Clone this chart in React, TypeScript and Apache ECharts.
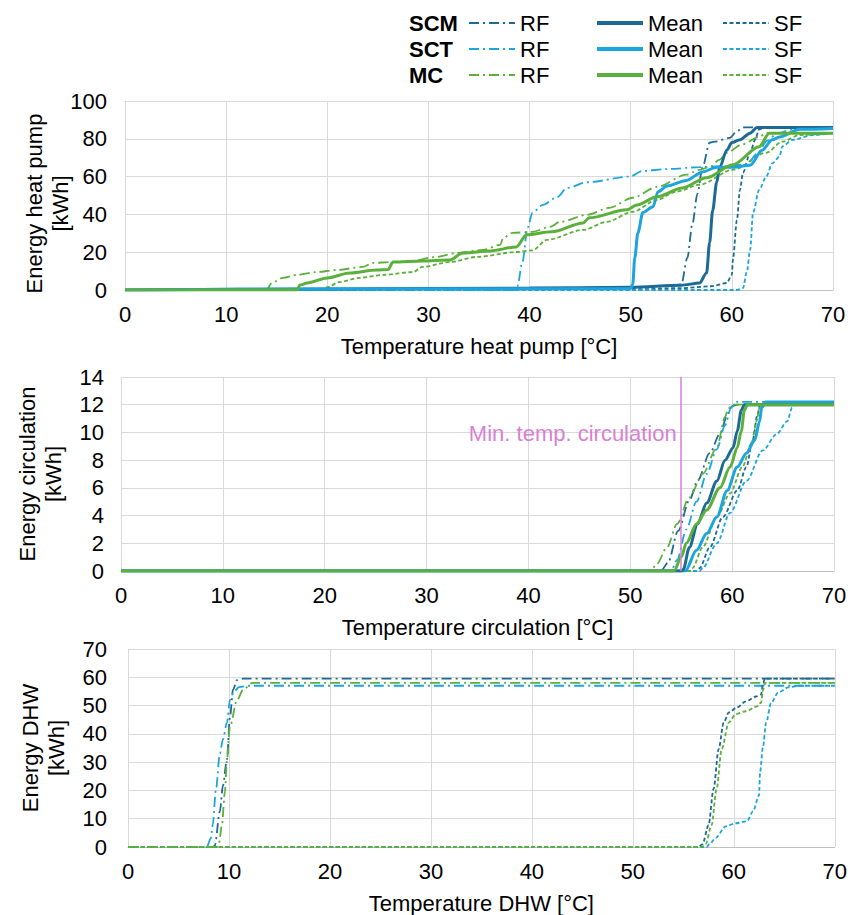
import React, { useEffect, useRef } from "react";
import * as echarts from "echarts";

// ---------- colours ----------
const C_SCM = "#1D6B94";
const C_SCT = "#1BA5DF";
const C_MC = "#5BAF3B";
const C_MIN = "#D97FD3";
const FONT = "'Liberation Sans', Arial, sans-serif";
const FS = 22;

// ---------- Panel 1: heat pump ----------
const hpScmRf = [[0,0],[40,0.5],[50,1],[54,2],[55,3],[55.6,17],[56.1,35],[56.6,51],[57.1,65],[57.8,78],[58.3,78.5],[59.8,80.5],[60.5,84],[61.1,86],[70,86]];
const hpScmMean = [[0,0],[20,0.5],[40,1],[50,1.5],[55,2.5],[56.8,3.7],[57.5,9],[57.8,25],[58.1,42],[58.5,57],[58.8,65],[59.5,74],[60,78],[60.8,79.5],[61.8,83],[62.5,86],[70,86]];
const hpScmSf = [[0,0],[50,0.3],[55,1],[58,2],[59.5,3.7],[60,8],[60.1,16],[60.5,37],[60.8,53],[61.1,62],[61.8,72.6],[62.3,79.5],[62.7,85],[63.5,86],[70,86]];
const hpSctRf = [[0,0],[38.5,0],[38.8,2],[39.3,15],[39.8,33],[40.3,41],[41.3,45],[42.7,49],[43.7,54],[45.7,57],[49.9,60],[51.2,63],[53.6,64],[56.8,65],[59.1,65.5],[61.5,66.5],[62.5,72],[63.5,79],[64.5,83],[66,85],[70,85.5]];
const hpSctMean = [[0,0],[20,0.5],[50,0.8],[50.2,3],[50.4,17],[50.7,30],[51.2,41],[52.2,44],[52.7,52],[53.6,55],[55.5,58],[57.1,62.5],[58.5,65],[60.1,65],[61.8,66],[63,74],[64,79.5],[64.7,81],[66.7,85],[70,85.5]];
const hpSctSf = [[0,0],[60.5,0],[61.1,1],[61.5,10],[61.8,21],[62.1,41],[62.7,53],[63.4,60],[64,67],[64.7,70.5],[65,76],[66,79.5],[68,82],[70,83]];
const hpMcRf = [[0,0],[14,0],[14.5,3.7],[15.6,6.4],[17,8],[19,9.5],[20.9,10.6],[23.5,12.2],[24.5,14.3],[26.2,14.8],[28,15],[30.8,17.5],[32.8,19.6],[35.4,21.2],[37.1,23.9],[37.4,27.6],[38.3,30.2],[40.3,30.8],[42,33.4],[43,36],[45.7,39.8],[47.9,43.5],[50.2,48.8],[52.6,54.6],[55.5,61],[56.8,63.6],[57.8,65],[58.8,69],[59.5,72.6],[61,77],[62.7,81],[63.4,83],[70,83]];
const hpMcMean = [[0,0],[17,0],[17.3,2.6],[18,3.7],[20,6.4],[22.2,9],[24.9,10.6],[26,10.8],[26.5,14.8],[29.4,15.4],[32.1,15.9],[33.4,19.6],[36.1,20.7],[38.7,22.8],[39.7,29.2],[42.2,30.8],[45.3,35.5],[45.9,38.2],[49.6,42.4],[50.6,45],[52.6,49.3],[55.1,54],[57.5,59.4],[60.1,66.3],[62.7,75.8],[63.7,83],[70,83]];
const hpMcSf = [[0,0],[19.5,0],[20,1.5],[21.2,4.2],[23.2,6.4],[25.5,8],[28.5,9.5],[29.4,12.2],[32.1,14.8],[34.8,17.5],[38.7,20.1],[40.3,21],[41.7,26.5],[45.3,31.8],[47.6,36],[50.2,41.4],[52.6,47.7],[54.5,52],[56.8,55.7],[60.1,63.6],[63.4,72.6],[65,78.5],[66.7,82],[70,83]];

// ---------- Panel 2: circulation ----------
const ciScmRf = [[0,0],[53,0],[53.7,0.6],[54.7,2.9],[55.8,5.1],[56.6,6.5],[57.8,8.5],[58.8,9.9],[59.6,11.4],[60,11.9],[60.5,12],[70,12]];
const ciScmMean = [[0,0],[55,0],[55.2,0.1],[55.8,1.7],[56.6,3.4],[57.5,4.9],[58.5,6.5],[59.3,8],[60.1,8.9],[60.5,10.1],[60.9,11.6],[61.2,12],[70,12]];
const ciScmSf = [[0,0],[56.5,0],[56.8,0.2],[57.8,1.7],[59.1,3.9],[60.5,5.8],[61.4,7.5],[62,9.4],[62.5,11.3],[62.7,11.9],[63,12.1],[70,12.1]];
const ciSctRf = [[0,0],[54,0],[54.6,0.8],[55.5,3],[56.5,5],[57.5,7],[58.5,8.8],[59.3,10.5],[59.9,11.8],[60.5,12.2],[70,12.2]];
const ciSctMean = [[0,0],[55.4,0],[56.5,1.5],[57.5,2.7],[58.5,3.9],[59.5,5.8],[60.5,7.5],[61.4,8.5],[62.2,9.4],[62.7,10.8],[62.9,11.8],[63.3,12.2],[70,12.2]];
const ciSctSf = [[0,0],[56.8,0],[57.1,0.2],[58.5,2],[59.8,4.2],[61.4,6.5],[63,8.7],[64.4,9.9],[65.4,10.8],[65.9,11.8],[66.4,12.2],[70,12.2]];
const ciMcRf = [[0,0],[52,0],[52.6,0.5],[53.6,1.7],[54.6,3.4],[55.8,5.3],[57.1,7],[58.5,8.9],[59.3,11.1],[59.6,11.7],[60,12],[70,12]];
const ciMcMean = [[0,0],[54.3,0],[55,1],[55.5,2],[56.5,3.4],[57.5,4.4],[58.8,6],[59.8,7.5],[60.5,8.9],[60.9,10.1],[61.2,11.6],[61.5,12],[70,12]];
const ciMcSf = [[0,0],[55.8,0],[56.1,0.2],[57.1,1.7],[58.5,3.9],[59.8,5.6],[61,7.5],[61.9,9.2],[62.4,10.8],[62.7,11.8],[63,12],[70,12]];
const minTempCirculation = 55;
const minTempLabelY = 9.9;

// ---------- Panel 3: DHW ----------
const dhScmRf = [[0,0],[8.4,0],[8.6,0.5],[9.1,12.6],[9.4,21.7],[9.8,31],[10.1,46],[10.4,55.6],[10.8,59],[11.4,59.5],[70,59.5]];
const dhScmSf = [[0,0],[56.5,0],[56.9,1],[57.5,7.7],[58,20.6],[58.5,34.6],[59,44],[59.5,47.6],[60.3,49.3],[61.2,51.5],[62.2,53.2],[62.7,53.9],[62.9,58],[63.1,59.5],[70,59.5]];
const dhSctRf = [[0,0],[7.8,0],[8.2,3],[8.4,8],[8.7,20],[9.1,33],[9.4,38],[9.8,44],[10.1,52],[10.5,55],[11,56.5],[12,57],[70,57]];
const dhSctSf = [[0,0],[57.3,0],[57.6,1],[58.2,3.2],[59.2,7.3],[60.2,8.4],[61.3,9.1],[61.9,12.6],[62.5,18.2],[62.6,26.6],[62.9,35.7],[63.2,44],[63.7,51],[64.4,54.6],[65.4,56.4],[66.4,57],[70,57]];
const dhMcRf = [[0,0],[8.8,0],[9.0,1],[9.3,7.7],[9.6,19.6],[9.8,31],[10.1,42.7],[10.8,52],[11.4,55.6],[12.3,58],[70,58]];
const dhMcSf = [[0,0],[56.8,0],[57.2,1],[57.8,7.7],[58.3,20.6],[58.8,34.6],[59.5,44],[60.2,47],[61.2,48],[62.3,49.7],[62.7,51],[62.9,55.6],[63.1,58],[70,58]];

// ---------- axis texts ----------
const xNames = ["Temperature heat pump [°C]", "Temperature circulation [°C]", "Temperature DHW [°C]"];
const yNames = ["Energy heat pump\n[kWh]", "Energy circulation\n[kWh]", "Energy DHW\n[kWh]"];
const yMax = [100, 14, 70];
const yStep = [20, 2, 10];
const groups = ["SCM", "SCT", "MC"];
const kinds = ["RF", "Mean", "SF"];

const colorOf: Record<string, string> = { SCM: C_SCM, SCT: C_SCT, MC: C_MC };

function lineStyleOf(kind: string, color: string) {
  if (kind === "Mean") return { color, width: 3, type: "solid" as const };
  if (kind === "RF") return { color, width: 1.8, type: [10, 4, 2, 4] };
  return { color, width: 1.8, type: [4, 2.5] };
}

function mk(group: string, kind: string, data: number[][], idx: number, extra: any = {}) {
  const color = colorOf[group];
  return {
    name: `${group} ${kind}`,
    type: "line",
    xAxisIndex: idx,
    yAxisIndex: idx,
    data,
    symbol: "none",
    showSymbol: false,
    smooth: 0.3,
    smoothMonotone: "x",
    color,
    lineStyle: lineStyleOf(kind, color),
    z: kind === "Mean" ? 3 : 2,
    ...extra,
  };
}

export default function App() {
  const ref = useRef<HTMLDivElement>(null);
  useEffect(() => {
    document.body.style.margin = "0";
    if (!ref.current) return;
    const chart = echarts.init(ref.current, undefined, { renderer: "svg" });

    const grids = [
      { left: 125, top: 101, width: 708, height: 189 },
      { left: 121, top: 377, width: 713, height: 194 },
      { left: 128, top: 649, width: 708, height: 200 },
    ];
    const yLabelMargin = [18, 17, 21];
    const yNameGap = [52, 55, 59];
    const yNamePad = [[0, 16, 0, 0], [0, 0, 0, 0], [0, 0, 0, 0]];

    const xAxis = grids.map((_, i) => ({
      type: "value",
      gridIndex: i,
      min: 0,
      max: 70,
      interval: 10,
      name: xNames[i],
      nameLocation: "middle",
      nameGap: 45,
      nameMoveOverlap: false,
      nameTextStyle: { color: "#000", fontSize: FS, fontFamily: FONT },
      axisLine: { show: true, lineStyle: { color: "#bfbfbf", width: 1 } },
      axisTick: { show: false },
      axisLabel: { color: "#000", fontSize: FS, fontFamily: FONT, margin: 13 },
      splitLine: { show: true, lineStyle: { color: "#d9d9d9", width: 1 } },
    }));
    const yAxis = grids.map((_, i) => ({
      type: "value",
      gridIndex: i,
      min: 0,
      max: yMax[i],
      interval: yStep[i],
      name: yNames[i],
      nameLocation: "middle",
      nameRotate: 90,
      nameGap: yNameGap[i],
      nameMoveOverlap: false,
      nameTextStyle: { color: "#000", fontSize: FS, fontFamily: FONT, lineHeight: 26, padding: yNamePad[i] },
      axisLine: { show: false },
      axisTick: { show: false },
      axisLabel: { color: "#000", fontSize: FS, fontFamily: FONT, margin: yLabelMargin[i] },
      splitLine: { show: true, lineStyle: { color: "#d9d9d9", width: 1 } },
    }));

    const series: any[] = [
      // panel 1
      mk("SCM", "RF", hpScmRf, 0),
      mk("SCT", "RF", hpSctRf, 0),
      mk("MC", "RF", hpMcRf, 0),
      mk("SCM", "SF", hpScmSf, 0),
      mk("SCT", "SF", hpSctSf, 0),
      mk("MC", "SF", hpMcSf, 0),
      mk("SCM", "Mean", hpScmMean, 0),
      mk("SCT", "Mean", hpSctMean, 0),
      mk("MC", "Mean", hpMcMean, 0),
      // panel 2
      mk("SCM", "RF", ciScmRf, 1, {
        markLine: {
          silent: true,
          symbol: ["none", "none"],
          label: { show: false },
          lineStyle: { color: C_MIN, width: 1.5, type: "solid" },
          data: [{ xAxis: minTempCirculation }],
        },
        markPoint: {
          silent: true,
          symbol: "circle",
          symbolSize: 1,
          itemStyle: { color: "rgba(0,0,0,0)" },
          label: {
            show: true,
            position: "left",
            distance: 4,
            formatter: "Min. temp. circulation",
            color: C_MIN,
            fontSize: FS,
            fontFamily: FONT,
          },
          data: [{ coord: [minTempCirculation, minTempLabelY] }],
        },
      }),
      mk("SCT", "RF", ciSctRf, 1),
      mk("MC", "RF", ciMcRf, 1),
      mk("SCM", "SF", ciScmSf, 1),
      mk("SCT", "SF", ciSctSf, 1),
      mk("MC", "SF", ciMcSf, 1),
      mk("SCT", "Mean", ciSctMean, 1),
      mk("SCM", "Mean", ciScmMean, 1),
      mk("MC", "Mean", ciMcMean, 1),
      // panel 3
      mk("SCM", "RF", dhScmRf, 2),
      mk("SCT", "RF", dhSctRf, 2),
      mk("MC", "RF", dhMcRf, 2),
      mk("SCM", "SF", dhScmSf, 2),
      mk("SCT", "SF", dhSctSf, 2),
      mk("MC", "SF", dhMcSf, 2),
    ];

    const legendLeft = [468, 595, 722];
    const legend = kinds.map((k, i) => ({
      orient: "vertical",
      left: legendLeft[i],
      top: 10,
      padding: 0,
      itemWidth: 46,
      itemHeight: 14,
      itemGap: 0,
      selectedMode: false,
      data: groups.map((g) => `${g} ${k}`),
      formatter: (name: string) => name.split(" ")[1],
      textStyle: { color: "#000", fontSize: FS, fontFamily: FONT, lineHeight: 26 },
      itemStyle: { opacity: 0 },
      lineStyle: { width: k === "Mean" ? 4 : 2 },
    }));

    const rowY = [23, 49, 75];
    const graphic = groups.map((g, i) => ({
      type: "text",
      x: 409,
      y: rowY[i],
      style: {
        text: g,
        fontSize: FS,
        fontWeight: "bold",
        fontFamily: FONT,
        fill: "#000",
        verticalAlign: "middle",
      },
    }));

    chart.setOption({
      animation: false,
      backgroundColor: "#fff",
      grid: grids,
      xAxis,
      yAxis,
      legend,
      graphic,
      series,
    });
    return () => chart.dispose();
  }, []);
  return <div ref={ref} style={{ width: 850, height: 915 }} />;
}
